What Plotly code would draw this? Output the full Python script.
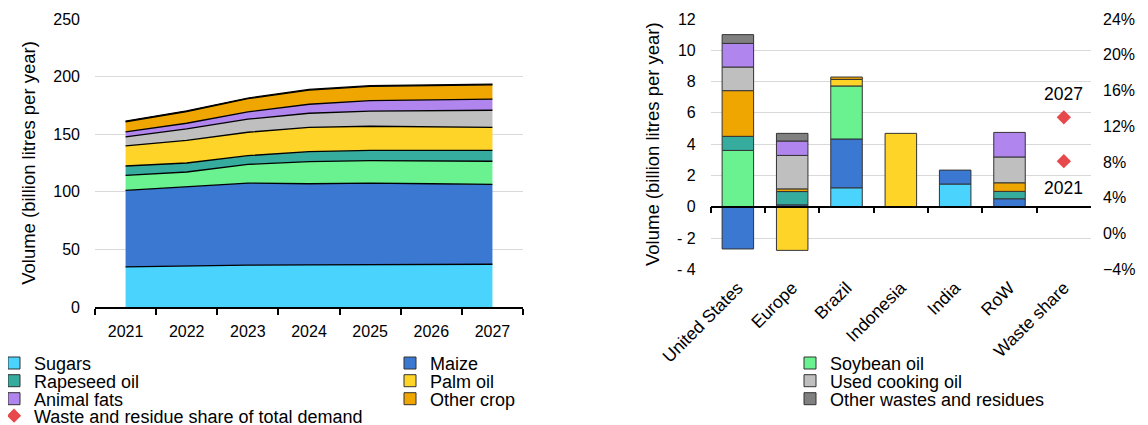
import plotly.graph_objects as go

FONT = "Liberation Sans, Arial, sans-serif"

# ---------------- data ----------------
years = ["2021", "2022", "2023", "2024", "2025", "2026", "2027"]

# left chart: stacked areas (billion litres per year)
area_sugars = [34.8, 35.7, 36.3, 36.5, 36.8, 36.8, 37.1]
area_maize = [66.4, 68.4, 71.3, 70.5, 70.8, 70.2, 69.3]
area_soybean = [13.1, 13.1, 16.2, 19.2, 19.4, 19.7, 20.1]
area_rapeseed = [8.1, 7.8, 7.6, 8.7, 9.0, 9.3, 9.5]
area_palm = [17.4, 19.7, 20.3, 21.1, 20.9, 20.3, 20.0]
area_uco = [7.8, 9.9, 11.3, 12.2, 13.1, 13.9, 14.8]
area_animal = [4.4, 4.9, 6.4, 7.8, 9.2, 9.6, 9.6]
area_othercrop = [8.8, 10.2, 11.4, 12.3, 12.3, 12.6, 12.5]
area_otherwaste = [0.6, 0.6, 0.6, 0.6, 0.6, 0.6, 0.6]

# right chart: change by region (billion litres per year)
regions = ["United States", "Europe", "Brazil", "Indonesia", "India", "RoW", "Waste share"]
bar_sugars = [None, None, 1.21, None, 1.45, None, None]
bar_maize = [-2.7, 0.12, 3.12, None, 0.89, 0.51, None]
bar_soybean = [3.6, None, 3.39, None, None, None, None]
bar_rapeseed = [0.9, 0.85, None, None, None, 0.47, None]
bar_palm = [None, -2.79, 0.42, 4.69, None, None, None]
bar_othercrop = [2.92, 0.17, 0.15, None, None, 0.55, None]
bar_uco = [1.51, 2.14, None, None, None, 1.65, None]
bar_animal = [1.51, 0.92, None, None, None, 1.57, None]
bar_otherwaste = [0.56, 0.49, None, None, None, None, None]

share_years = ["2021", "2027"]
share_values = [0.081, 0.130]

left_ticks = [0, 50, 100, 150, 200, 250]
right_ticks = [-4, -2, 0, 2, 4, 6, 8, 10, 12]
right_ticktext = ["- 4", "- 2", "0", "2", "4", "6", "8", "10", "12"]
pct_ticks = [-0.04, 0.0, 0.04, 0.08, 0.12, 0.16, 0.20, 0.24]

# ---------------- styles ----------------
C = {
    "Sugars": "#49D3FD",
    "Maize": "#3B78D1",
    "Soybean oil": "#69F28F",
    "Rapeseed oil": "#36AC9E",
    "Palm oil": "#FFD428",
    "Other crop": "#F0A600",
    "Used cooking oil": "#BFBFBF",
    "Animal fats": "#B085EE",
    "Other wastes and residues": "#808080",
}
RED = "#E6484B"
GRID = "#D9D9D9"
W, H = 1148, 425
PAGE = 8  # page body margin: screen px = figure px + 8


def fx(px):
    return (px - PAGE) / W


def fy(py):
    return 1 - (py - PAGE) / H


# legend grid: (legend-box left px, row center px), screen coordinates
col_px = [-6, 390, 790]
row_px = [363.3, 381.0, 399.0, 416.0]
legend_slot = {
    "Sugars": (0, 0), "Maize": (1, 0), "Soybean oil": (2, 0),
    "Rapeseed oil": (0, 1), "Palm oil": (1, 1), "Used cooking oil": (2, 1),
    "Animal fats": (0, 2), "Other crop": (1, 2), "Other wastes and residues": (2, 2),
    "Waste and residue share of total demand": (0, 3),
}
legend_names = {}
for i, name in enumerate(legend_slot):
    legend_names[name] = "legend" if i == 0 else f"legend{i + 1}"

fig = go.Figure()

# left: stacked areas
area_series = [
    ("Sugars", area_sugars),
    ("Maize", area_maize),
    ("Soybean oil", area_soybean),
    ("Rapeseed oil", area_rapeseed),
    ("Palm oil", area_palm),
    ("Used cooking oil", area_uco),
    ("Animal fats", area_animal),
    ("Other crop", area_othercrop),
    ("Other wastes and residues", area_otherwaste),
]
for name, vals in area_series:
    fig.add_trace(go.Scatter(
        x=years, y=vals, name=name, stackgroup="one", mode="lines",
        line=dict(color="#000000", width=1.3, shape="linear"),
        fillcolor=C[name], showlegend=False, hoverinfo="skip",
        xaxis="x", yaxis="y",
    ))

# right: stacked bars
bar_series = [
    ("Sugars", bar_sugars),
    ("Maize", bar_maize),
    ("Soybean oil", bar_soybean),
    ("Rapeseed oil", bar_rapeseed),
    ("Palm oil", bar_palm),
    ("Other crop", bar_othercrop),
    ("Used cooking oil", bar_uco),
    ("Animal fats", bar_animal),
    ("Other wastes and residues", bar_otherwaste),
]
for name, vals in bar_series:
    fig.add_trace(go.Bar(
        x=regions, y=vals, name=name,
        marker=dict(color=C[name], line=dict(color="#333333", width=1)),
        legend=legend_names[name], hoverinfo="skip",
        xaxis="x2", yaxis="y2",
    ))

# zero-line axis helper (invisible trace so the axis has categories)
fig.add_trace(go.Scatter(
    x=regions, y=[None] * len(regions), mode="markers",
    showlegend=False, hoverinfo="skip", xaxis="x3", yaxis="y2",
))

# waste share markers on right percentage axis
share_name = "Waste and residue share of total demand"
fig.add_trace(go.Scatter(
    x=["Waste share"] * len(share_values), y=share_values,
    mode="markers",
    marker=dict(symbol="diamond", size=11, color=RED),
    name=share_name, legend=legend_names[share_name], hoverinfo="skip",
    xaxis="x2", yaxis="y3",
))
for yr, v in zip(share_years, share_values):
    fig.add_annotation(
        x="Waste share", y=v, xref="x2", yref="y3", text=yr, showarrow=False,
        yshift=(23 if yr == "2027" else -27),
        font=dict(family=FONT, size=17.5, color="#000000"),
    )

tickfont = dict(family=FONT, size=16, color="#000000")
titlefont = dict(family=FONT, size=18.5, color="#000000")

y_top = fy(19)
y_left_bot = fy(307)
y_right_bot = fy(269.3)
zero_pos = y_right_bot + (y_top - y_right_bot) * 4 / 16

legends = {}
for name, (c, r) in legend_slot.items():
    legends[legend_names[name]] = dict(
        x=fx(col_px[c]), y=fy(row_px[r]),
        xanchor="left", yanchor="middle", orientation="v",
        font=dict(family=FONT, size=18, color="#000000"),
        bgcolor="rgba(0,0,0,0)", borderwidth=0,
        itemclick=False, itemdoubleclick=False,
    )

fig.update_layout(
    width=W, height=H,
    margin=dict(l=0, r=0, t=0, b=0, autoexpand=False),
    paper_bgcolor="white", plot_bgcolor="white",
    font=dict(family=FONT, size=16, color="#000000"),
    barmode="relative", bargap=0.42,
    hovermode=False,
    xaxis=dict(
        domain=[fx(95), fx(523)], anchor="y", type="category",
        categoryorder="array", categoryarray=years, range=[-0.5, 6.5],
        showgrid=False, showline=True, linecolor="#000000", linewidth=1.5,
        ticks="outside", tickson="boundaries", ticklen=6, tickcolor="#000000",
        tickwidth=1.5, tickfont=tickfont, ticklabelstandoff=9,
        automargin=False, zeroline=False,
    ),
    yaxis=dict(
        domain=[y_left_bot, y_top], anchor="x", range=[0, 250],
        tickvals=left_ticks, showgrid=True, gridcolor=GRID, gridwidth=1.3,
        zeroline=False, showline=False, ticks="", tickfont=tickfont,
        ticklabelstandoff=14,
        title=dict(text="Volume (billion litres per year)", font=titlefont, standoff=12),
        automargin=False,
    ),
    xaxis2=dict(
        domain=[fx(710.7), fx(1091)], anchor="y2", type="category",
        categoryorder="array", categoryarray=regions, range=[-0.5, 6.5],
        showgrid=False, showline=False, ticks="", tickangle=-45,
        tickfont=dict(family=FONT, size=17.5, color="#000000"),
        automargin=False, zeroline=False, ticklabelstandoff=4,
    ),
    xaxis3=dict(
        overlaying="x2", anchor="free", position=zero_pos, type="category",
        categoryorder="array", categoryarray=regions, range=[-0.5, 6.5],
        showgrid=False, showline=True, linecolor="#000000", linewidth=1.5,
        ticks="outside", tickson="boundaries", ticklen=6, tickcolor="#000000",
        tickwidth=1.5, showticklabels=False, zeroline=False, automargin=False,
    ),
    yaxis2=dict(
        domain=[y_right_bot, y_top], anchor="x2", range=[-4, 12],
        tickvals=right_ticks, ticktext=right_ticktext,
        showgrid=True, gridcolor=GRID, gridwidth=1.3, zeroline=False,
        showline=False, ticks="", tickfont=tickfont, ticklabelstandoff=14,
        title=dict(text="Volume (billion litres per year)", font=titlefont, standoff=12),
        automargin=False,
    ),
    yaxis3=dict(
        overlaying="y2", anchor="x2", side="right", range=[-0.04, 0.24],
        tickvals=pct_ticks, tickformat=".0%", showgrid=False, zeroline=False,
        showline=False, ticks="", tickfont=tickfont, ticklabelstandoff=11,
        automargin=False,
    ),
    **legends,
)

fig.write_html("out.html")
